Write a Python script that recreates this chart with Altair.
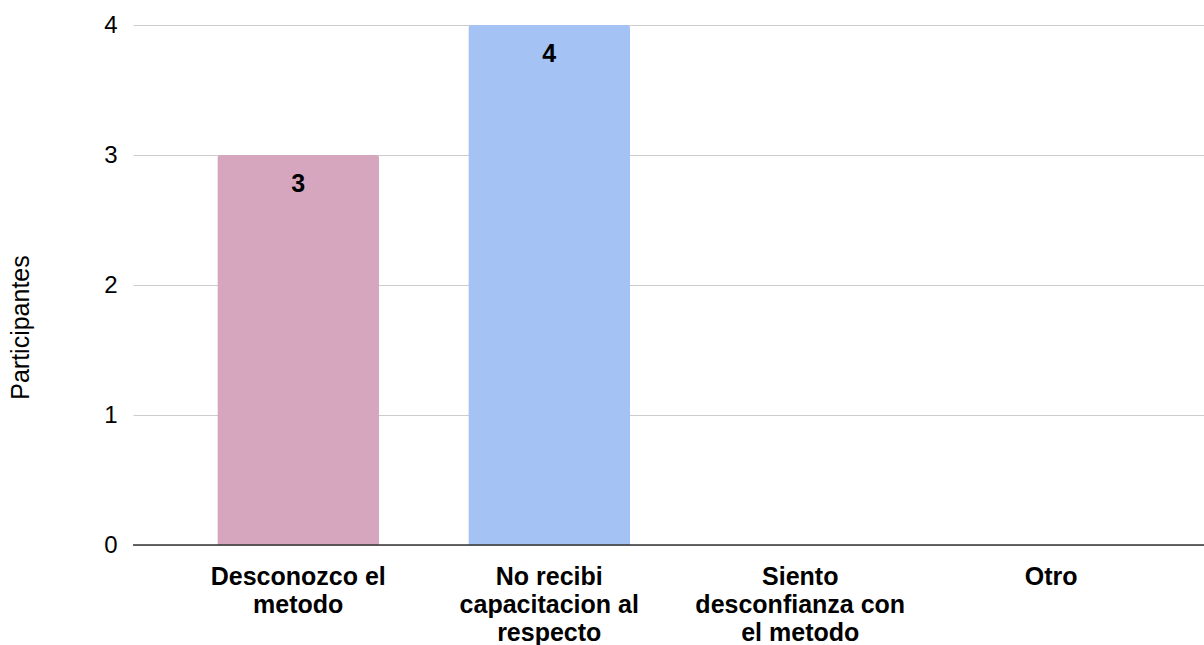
import altair as alt
import pandas as pd

categories = ["Desconozco el metodo", "No recibi capacitacion al respecto",
              "Siento desconfianza con el metodo", "Otro"]
label_lines = [["Desconozco el", "metodo"],
               ["No recibi", "capacitacion al", "respecto"],
               ["Siento", "desconfianza con", "el metodo"],
               ["Otro"]]
values = [3, 4, 0, 0]
colors = ["#d5a6bd", "#a4c2f4", "#b6d7a8", "#f9cb9c"]

df = pd.DataFrame({"cat": categories, "val": values})
bars_df = df[df["val"] > 0]

expr = ""
for c, lines in zip(categories, label_lines):
    arr = "[" + ",".join("'" + l + "'" for l in lines) + "]"
    expr += f"datum.label == '{c}' ? {arr} : "
expr += "datum.label"

FONT = "Liberation Sans"
FS = 25

x = alt.X("cat:N", sort=categories, title=None,
          scale=alt.Scale(domain=categories, paddingInner=0.355, paddingOuter=0.311, align=0.54),
          axis=alt.Axis(labelExpr=expr, labelAngle=0, labelFont=FONT, labelFontSize=FS,
                        labelFontWeight="bold", labelColor="#000000", labelLineHeight=28,
                        labelPadding=31, ticks=False, domain=False, grid=False,
                        labelBaseline="middle", labelLimit=400))
y = alt.Y("val:Q", title="Participantes",
          scale=alt.Scale(domain=[0, 4], nice=False),
          axis=alt.Axis(values=[0, 1, 2, 3, 4], format="d", labelFont=FONT, labelFontSize=24,
                        labelColor="#000000", labelPadding=16, ticks=False, domain=False,
                        gridColor="#cccccc", gridWidth=1.2, titleFont=FONT, titleFontSize=FS,
                        titleFontWeight="normal", titleColor="#000000", titleAngle=-90,
                        titleX=-113, titleY=302, titleAlign="center", titleBaseline="middle"))

base = alt.Chart(bars_df)
bars = base.mark_bar(cornerRadiusTopLeft=3, cornerRadiusTopRight=3).encode(
    x=x, y=y,
    color=alt.Color("cat:N", scale=alt.Scale(domain=categories, range=colors), legend=None))
texts = base.mark_text(font=FONT, fontSize=FS, fontWeight="bold", color="#000000",
                       baseline="middle", dy=29).encode(x=x, y=y, text=alt.Text("val:Q"))

zero = alt.Chart(pd.DataFrame({"z": [0]})).mark_rule(color="#333333", strokeWidth=1.5).encode(
    y=alt.Y("z:Q", scale=alt.Scale(domain=[0, 4], nice=False)))

chart = alt.layer(bars, texts, zero).properties(
    width=1071, height=520,
    autosize=alt.AutoSizeParams(type="none"),
    padding={"left": 133, "top": 25, "right": 0, "bottom": 100},
    background="#ffffff"
).configure_view(stroke=None)

chart.save("out.html", embed_options={"renderer": "svg", "actions": False})
